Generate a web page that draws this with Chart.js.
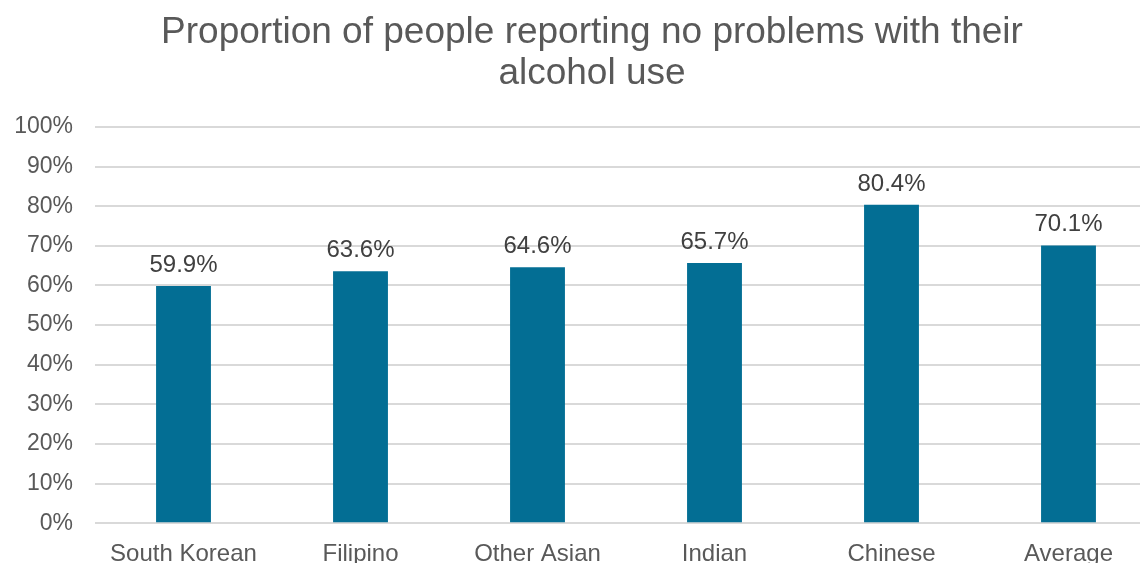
<!DOCTYPE html>
<html>
<head>
<meta charset="utf-8">
<script src="https://cdn.jsdelivr.net/npm/chart.js@4"></script>
<style>
  html, body { margin: 0; padding: 0; background: #fff; overflow: hidden; }
  #wrap { width: 1184px; height: 586px; }
</style>
</head>
<body>
<div id="wrap"><canvas id="barChart" width="1184" height="586"></canvas></div>
<script>
// chart data
const categories = ["South Korean", "Filipino", "Other Asian", "Indian", "Chinese", "Average"];
const noProblemPct = [59.9, 63.6, 64.6, 65.7, 80.4, 70.1];
const yTicks = [0, 10, 20, 30, 40, 50, 60, 70, 80, 90, 100];
const titleLines = ["Proportion of people reporting no problems with their", "alcohol use"];

const FONT = "'Liberation Sans', Arial, sans-serif";

// title drawn by hand so it can sit centred on the page, not the padded box
const pageTitle = {
  id: "pageTitle",
  afterDraw(chart) {
    const ctx = chart.ctx;
    ctx.save();
    ctx.font = "37px " + FONT;
    ctx.fillStyle = "#595959";
    ctx.textAlign = "center";
    ctx.textBaseline = "middle";
    titleLines.forEach((line, i) => {
      ctx.fillText(line, chart.width / 2, 33 + i * 41);
    });
    ctx.restore();
  },
};

// simple value labels above the bars (no datalabels plugin offline)
const valueLabels = {
  id: "valueLabels",
  afterDatasetsDraw(chart) {
    const ctx = chart.ctx;
    const meta = chart.getDatasetMeta(0);
    ctx.save();
    ctx.font = "24px " + FONT;
    ctx.fillStyle = "#404040";
    ctx.textAlign = "center";
    ctx.textBaseline = "alphabetic";
    meta.data.forEach((bar, i) => {
      ctx.fillText(noProblemPct[i].toFixed(1) + "%", bar.x, bar.y - 14);
    });
    ctx.restore();
  },
};

new Chart(document.getElementById("barChart").getContext("2d"), {
  type: "bar",
  data: {
    labels: categories,
    datasets: [
      {
        label: "No problems",
        data: noProblemPct,
        backgroundColor: "#036E94",
        barPercentage: 0.31,
        categoryPercentage: 1,
      },
    ],
  },
  options: {
    responsive: false,
    animation: false,
    layout: { padding: { left: 0, right: 27, top: 127, bottom: 0 } },
    plugins: {
      legend: { display: false },
      tooltip: { enabled: false },
      title: { display: false },
    },
    scales: {
      x: {
        grid: { display: false, drawTicks: false },
        border: { display: false },
        ticks: {
          color: "#595959",
          font: { family: FONT, size: 24 },
          padding: 17,
          maxRotation: 0,
        },
      },
      y: {
        min: 0,
        max: 100,
        afterBuildTicks: (axis) => {
          axis.ticks = yTicks.map((v) => ({ value: v }));
        },
        afterFit: (axis) => {
          axis.width = 95;
        },
        grid: { color: "#D9D9D9", lineWidth: 2, drawTicks: false },
        border: { display: false },
        ticks: {
          color: "#595959",
          font: { family: FONT, size: 23 },
          padding: 22,
          callback: (v) => v + "%",
        },
      },
    },
  },
  plugins: [valueLabels, pageTitle],
});
</script>
</body>
</html>
